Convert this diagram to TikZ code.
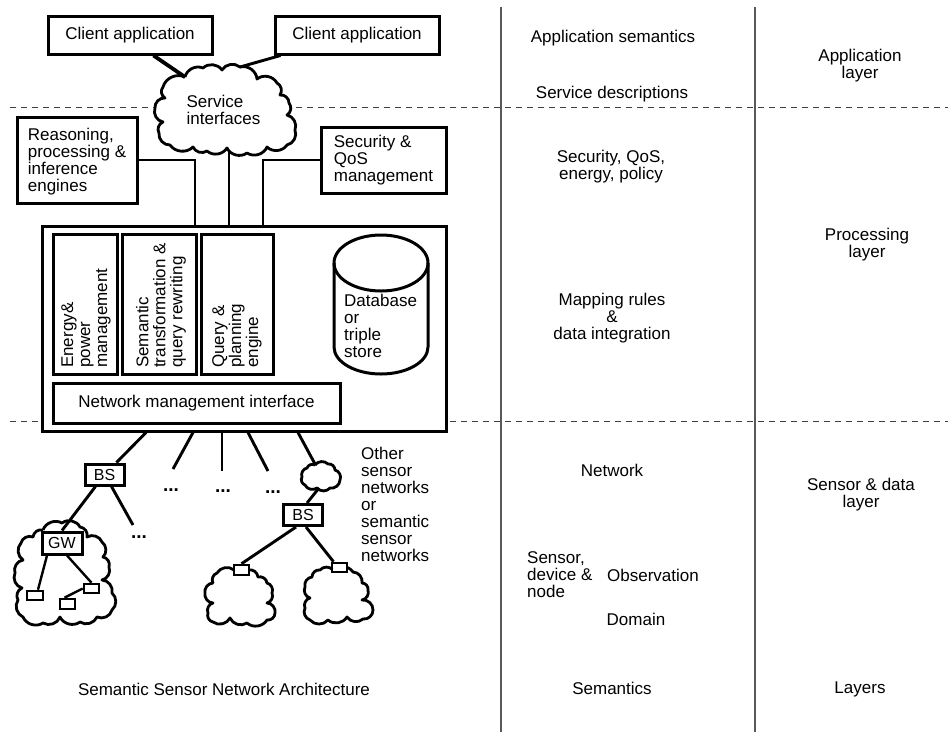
\documentclass[tikz,border=0pt]{standalone}
\usepackage{fontspec}
\setmainfont{Liberation Sans}
\pgfdeclarelayer{backlines}
\pgfdeclarelayer{clouds}
\pgfdeclarelayer{wires}
\pgfsetlayers{backlines,clouds,wires,main}
\tikzset{
  x=1pt,y=-1pt,
  thick box/.style={draw=black,fill=white,line width=3pt,inner sep=0pt,align=left,font=\fontsize{17}{17}\selectfont},
  bx/.style n args={2}{minimum width=#1pt,minimum height=#2pt},
  tag box/.style={thick box,font=\fontsize{16}{16}\selectfont,align=center},
  sensor box/.style={thick box,line width=2.6pt},
  lbl/.style={inner sep=0pt,font=\fontsize{17}{17}\selectfont},
  conn/.style={draw=black,line width=2.9pt},
  fine conn/.style={draw=black,line width=2.4pt},
  cloudy/.style={draw=black,fill=white,line width=2.8pt,line join=round},
  bp/.style={bend left=50},
  sep/.style={draw=black!65,line width=1.5pt},
  dashline/.style={draw=black!75,line width=1pt,dash pattern=on 6pt off 5pt},
  dotsn/.style={inner sep=0pt,font=\fontsize{19}{19}\selectfont\bfseries},
}
\begin{document}
\begin{tikzpicture}
\useasboundingbox (0,0) rectangle (948,732);

% main boxes
\node[thick box,bx={164}{38}] (client1) at (130,35) {Client application};
\node[thick box,bx={164}{38}] (client2) at (357,35) {Client application};
\node[thick box,bx={120}{86}] (reason) at (77,160) {\rule{0pt}{15pt}Reasoning,\\processing \&\\inference\\engines};
\node[thick box,bx={125}{66}] (secur) at (383.5,160) {Security \&\\QoS\\management};
\node[thick box,bx={404}{205}] (big) at (244,328.5) {};
\node[thick box,bx={63.5}{140}] (energy) at (85.25,304) {};
\node[thick box,bx={74}{140}] (semtr) at (159,304) {};
\node[thick box,bx={72}{140}] (query) at (237,304) {};
\node[lbl,rotate=90,anchor=west,align=left] (energyt) at (86,368) {Energy\&\\power\\management};
\node[lbl,rotate=90,anchor=west,align=left] (semtrt) at (161,368) {Semantic\\transformation \&\\query rewriting};
\node[lbl,rotate=90,anchor=west,align=left] (queryt) at (237,368) {Query \&\\planning\\engine};
\node[thick box,bx={287}{40},align=center] (netif) at (196.5,403) {Network management interface};

% cylinder
\draw[draw=black,line width=3pt,fill=white] (334,263) arc[start angle=180,end angle=0,x radius=47pt,y radius=28pt] -- (428,347) arc[start angle=0,end angle=-180,x radius=47pt,y radius=27pt] -- cycle;
\draw[draw=black,line width=3pt] (334,263) arc[start angle=180,end angle=360,x radius=47pt,y radius=28pt];
\node[lbl,align=left,anchor=west] (db) at (344,326) {Database\\or\\triple\\store};

% small boxes
\node[tag box,bx={39}{21}] (bs1) at (104.5,474.5) {BS};
\node[tag box,bx={39}{21}] (bs2) at (303,515) {BS};
\node[tag box,bx={40}{22}] (gw) at (62,543) {GW};
\node[sensor box,bx={15}{10}] (sa) at (241.5,570) {};
\node[sensor box,bx={15}{9}] (sb) at (339.5,567.5) {};
\node[sensor box,bx={16}{9}] (s1) at (35,595.5) {};
\node[sensor box,bx={15}{9}] (s2) at (91.5,588.5) {};
\node[sensor box,bx={15}{10}] (s3) at (67.5,604) {};

% free ends
\coordinate (svcNW) at (185,77);
\coordinate (svcNE) at (240,67);
\coordinate (svcS) at (229,150);
\coordinate (f1) at (173,469);
\coordinate (f2) at (222,471);
\coordinate (f3) at (268,471);
\coordinate (f4) at (133,525);
\coordinate (c0n) at (315,464);
\coordinate (c0s) at (319,488);
\coordinate (s1t) at (501,7); \coordinate (s1b) at (501,732);
\coordinate (s2t) at (755,7); \coordinate (s2b) at (755,732);
\coordinate (d1l) at (10,107); \coordinate (d1r) at (948,107);
\coordinate (d2l) at (10,421); \coordinate (d2r) at (948,421);

\begin{pgfonlayer}{backlines}
\fill[white] (0,0) rectangle (948,732);
\draw[dashline] (d1l) -- (d1r);
\draw[dashline] (d2l) -- (d2r);
\draw[sep] (s1t) -- (s1b);
\draw[sep] (s2t) -- (s2b);
\end{pgfonlayer}

\begin{pgfonlayer}{clouds}
\draw[cloudy] (185,77) to[bp] (203,68) to[bp] (222,70) to[bp] (240,67) to[bp] (257,79) to[bp] (277,83) to[bp] (280,95) to[bp] (289,103) to[bp] (287,115) to[bp] (295,130) to[bp] (287,145) to[bp] (267,147) to[bp] (247,153) to[bp] (227,148) to[bp] (207,151) to[bp] (193,147) to[bp] (170,145) to[bp] (159,133) to[bp] (163,122) to[bp] (155,108) to[bp] (165,98) to[bp] (163,87) to[bp] (185,77);
\draw[cloudy] (315,465) to[bp] (328,464) to[bp] (335,470) to[bp] (340,480) to[bp] (330,488) to[bp] (317,488) to[bp] (305,485) to[bp] (302,477) to[bp] (307,468) to[bp] (315,465);
\draw[cloudy] (43,530) to[bp] (62,523) to[bp] (80,527) to[bp] (87,537) to[bp] (102,542) to[bp] (103,557) to[bp] (109,567) to[bp] (102,580) to[bp] (112,593) to[bp] (112,610) to[bp] (97,617) to[bp] (80,622) to[bp] (60,617) to[bp] (43,623) to[bp] (23,617) to[bp] (18,600) to[bp] (22,588) to[bp] (15,573) to[bp] (23,560) to[bp] (21,543) to[bp] (33,537) to[bp] (43,530);
\draw[cloudy] (234,570) to[bp] (248,570) to[bp] (258,577) to[bp] (267,583) to[bp] (272,593) to[bp] (267,603) to[bp] (275,613) to[bp] (267,620) to[bp] (247,623) to[bp] (230,618) to[bp] (213,622) to[bp] (208,613) to[bp] (213,603) to[bp] (205,593) to[bp] (213,583) to[bp] (217,573) to[bp] (234,570);
\draw[cloudy] (333,570) to[bp] (353,572) to[bp] (362,583) to[bp] (368,590) to[bp] (362,600) to[bp] (373,610) to[bp] (363,619) to[bp] (347,617) to[bp] (328,620) to[bp] (310,620) to[bp] (305,608) to[bp] (310,598) to[bp] (305,587) to[bp] (312,577) to[bp] (320,570) to[bp] (333,570);
\end{pgfonlayer}

\begin{pgfonlayer}{wires}
\draw[conn,line width=3.8pt] ([xshift=107pt]client1.south west) -- (svcNW);
\draw[conn] ([xshift=7pt]client2.south west) -- (svcNE);
\draw[conn] (reason.east) -| ([xshift=-49pt]big.north);
\draw[conn] (secur.west) -| ([xshift=19pt]big.north);
\draw[conn] (svcS) -- ([xshift=-15pt]big.north);
\draw[conn] ([xshift=-98pt]big.south) -- ([xshift=12pt]bs1.north);
\draw[conn] ([xshift=-51pt]big.south) -- (f1);
\draw[conn] ([xshift=-22pt]big.south) -- (f2);
\draw[conn] ([xshift=4pt]big.south) -- (f3);
\draw[conn] ([xshift=54pt]big.south) -- (c0n);
\draw[conn] (c0s) -- ([xshift=4pt]bs2.north);
\draw[conn] ([xshift=-9pt]bs1.south) -- (gw.north);
\draw[conn] ([xshift=7pt]bs1.south) -- (f4);
\draw[conn] ([xshift=-7pt]bs2.south) -- (sa.north);
\draw[conn] ([xshift=3pt]bs2.south) -- ([xshift=-6pt]sb.north);
\draw[fine conn] ([xshift=-15pt]gw.south) -- ([xshift=3pt]s1.north);
\draw[fine conn] ([xshift=5pt]gw.south) -- (s2.north);
\draw[fine conn] (s2.west) -- ([xshift=-3pt]s3.north);
\end{pgfonlayer}

% dots
\node[dotsn] (dt1) at (171,490) {...};
\node[dotsn] (dt2) at (223,491) {...};
\node[dotsn] (dt3) at (273,492) {...};
\node[dotsn] (dt4) at (139,537) {...};

% texts
\node[lbl,align=left] (svctext) at (223.5,110) {Service\\interfaces};
\node[lbl,align=left,anchor=west] (other) at (361,504) {Other\\sensor\\networks\\or\\semantic\\sensor\\networks};
\node[lbl] (capA) at (224,689) {Semantic Sensor Network Architecture};
\node[lbl] (t1) at (613,38.5) {Application semantics};
\node[lbl] (t2) at (612,94) {Service descriptions};
\node[lbl,align=center] (t3) at (611,167) {Security, QoS,\\energy, policy};
\node[lbl,align=center] (t4) at (612,318) {Mapping rules\\\&\\data integration};
\node[lbl] (t5) at (612,470) {Network};
\node[lbl,align=left,anchor=west] (t6) at (527,575) {Sensor,\\device \&\\node};
\node[lbl] (t7) at (653,575) {Observation};
\node[lbl] (t8) at (636,619) {Domain};
\node[lbl] (t9) at (612,688) {Semantics};
\node[lbl,align=center] (l1) at (860,66) {Application\\layer};
\node[lbl,align=center] (l2) at (867,245) {Processing\\layer};
\node[lbl,align=center] (l3) at (861,495) {Sensor \& data\\layer};
\node[lbl] (l4) at (860,689) {Layers};
\end{tikzpicture}
\end{document}
